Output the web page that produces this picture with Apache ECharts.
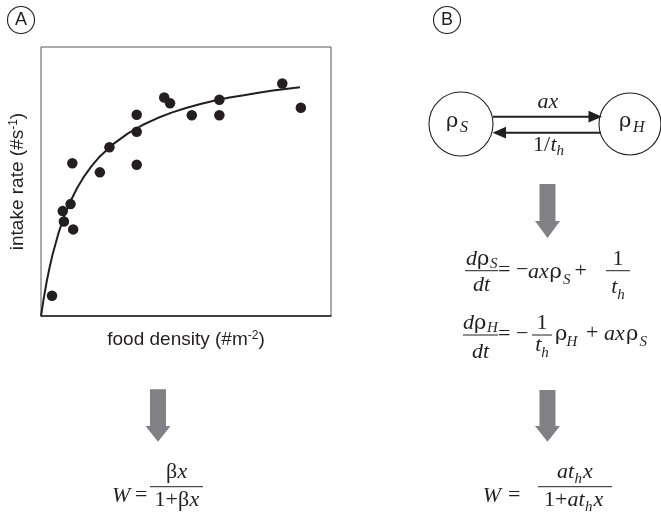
<!DOCTYPE html>
<html>
<head>
<meta charset="utf-8">
<script src="https://cdn.jsdelivr.net/npm/echarts@6/dist/echarts.min.js"></script>
<style>html,body{margin:0;background:#fff}#main{width:661px;height:516px}</style>
</head>
<body>
<div id="main"></div>
<script>
// panel A data (arbitrary 0-100 units)
var density = [3.8, 7.5, 7.9, 10.2, 11.1, 10.8, 20.3, 23.6, 33.0, 33.0, 33.0, 42.5, 44.5, 52.0, 61.5, 61.5, 83.2, 89.6];
var intake = [7.5, 39.0, 35.1, 41.6, 32.2, 56.8, 53.4, 62.7, 74.8, 68.5, 56.2, 81.2, 79.1, 74.6, 80.4, 74.6, 86.4, 77.4];
// fitted curve, traced along its length
var fitX = [0, 1, 2, 3, 4, 6, 8, 10, 12.5, 15, 17.5, 20, 25, 30, 35, 40, 45, 50, 55, 60, 65, 70, 75, 80, 85, 89.3];
var fitY = [0, 6.9, 13.0, 18.2, 22.9, 30.7, 37.1, 42.3, 47.7, 52.1, 55.8, 59.0, 64.0, 67.9, 71.0, 73.5, 75.6, 77.3, 78.8, 80.1, 81.2, 82.1, 83.0, 83.8, 84.5, 85.0];

var ink = '#231f20';
var grey = '#808184';
var serif = '"Liberation Serif", "DejaVu Serif", serif';
var greek = '"DejaVu Serif", serif';
var sans = '"Liberation Sans", Arial, sans-serif';

function tx(s, x, y, size, it, align, fam) {
  align = align || 'left';
  return {
    type: 'text', x: x, y: y, silent: true,
    style: {
      text: s, font: (it ? 'italic ' : '') + size + 'px ' + (fam || serif), fill: ink,
      align: align, verticalAlign: 'middle', textAlign: align, textVerticalAlign: 'middle'
    }
  };
}
function rho(x, y, size) {
  return tx('ρ', x, y, size || 21, false, 'left', greek);
}
function bar(x1, x2, y) {
  return {type: 'line', shape: {x1: x1, y1: y, x2: x2, y2: y}, style: {stroke: ink, lineWidth: 1}};
}
function ring(cx, cy, r) {
  return {type: 'circle', shape: {cx: cx, cy: cy, r: r}, style: {fill: 'none', stroke: ink, lineWidth: 1.1}};
}
function block(cx, top, neck, tip) {
  return {
    type: 'polygon',
    shape: {points: [[cx - 8, top], [cx + 8, top], [cx + 8, neck], [cx + 12.5, neck], [cx, tip], [cx - 12.5, neck], [cx - 8, neck]]},
    style: {fill: grey}
  };
}

var F = 22, S = 15;
var g = [
  ring(21, 20, 13.5), tx('A', 21, 20, 18, false, 'center', sans),
  ring(447, 20, 13.5), tx('B', 447, 20, 18, false, 'center', sans),

  // two-state diagram
  ring(461, 124, 32), ring(630, 124, 31),
  rho(446, 121.5, 21), tx('S', 460, 128, 16, true),
  rho(619, 121.5, 21), tx('H', 633, 128, 16, true),
  {type: 'line', shape: {x1: 493, y1: 116.7, x2: 590, y2: 116.7}, style: {stroke: ink, lineWidth: 2}},
  {type: 'polygon', shape: {points: [[602, 116.7], [588.5, 110.8], [588.5, 122.6]]}, style: {fill: ink}},
  {type: 'line', shape: {x1: 505, y1: 132.7, x2: 601, y2: 132.7}, style: {stroke: ink, lineWidth: 2}},
  {type: 'polygon', shape: {points: [[492.5, 132.7], [506, 126.8], [506, 138.6]]}, style: {fill: ink}},
  tx('ax', 548, 102, F, true, 'center'),
  tx('1/', 533, 145, F), tx('t', 550.5, 145, F, true), tx('h', 556.5, 151, S, true),

  block(547.5, 184, 221, 238),

  // dρS/dt = -axρS + 1/th
  tx('d', 466, 259.2, F, true), rho(477, 259.2), tx('S', 490, 263.7, S, true),
  bar(465, 498, 270.7),
  tx('dt', 473, 285.5, F, true),
  tx('=', 498, 270.1, F), tx('−', 516, 270.1, F),
  tx('ax', 528, 272.5, F, true), rho(549.5, 272.5), tx('S', 563, 279.8, S, true),
  tx('+', 574.5, 271, F),
  tx('1', 612.5, 259.2, F), bar(606, 630, 270.7),
  tx('t', 611.2, 287.5, F, true), tx('h', 617.3, 295, S, true),

  // dρH/dt = -1/th ρH + axρS
  tx('d', 463, 323.5, F, true), rho(474, 323.5), tx('H', 487, 328.2, S, true),
  bar(463, 498, 335),
  tx('dt', 472, 352.5, F, true),
  tx('=', 498, 334.1, F), tx('−', 516, 334.1, F),
  tx('1', 536.5, 323.5, F), bar(532, 552, 335),
  tx('t', 535.2, 345.5, F, true), tx('h', 541.3, 353, S, true),
  rho(555, 334.5), tx('H', 566.5, 341.8, S, true),
  tx('+', 586, 333, F),
  tx('ax', 604, 334.5, F, true), rho(626, 334.5), tx('S', 639.5, 341.8, S, true),

  block(547.5, 390, 426, 441.7),

  // W = a th x / (1 + a th x)
  tx('W', 482.7, 495.8, F, true), tx('=', 508, 494.8, F),
  tx('at', 557, 472.5, F, true), tx('h', 574.5, 479.3, S, true), tx('x', 583, 472.5, F, true),
  bar(538, 612, 486.7),
  tx('1+', 544, 500.2, F), tx('at', 567.5, 500.2, F, true), tx('h', 585, 507.3, S, true), tx('x', 593.5, 500.2, F, true),

  block(158, 389.3, 426, 441.7),

  // W = βx / (1 + βx)
  tx('W', 112, 495.8, F, true), tx('=', 135, 494.8, F),
  tx('β', 166, 472.5, F), tx('x', 177.5, 472.5, F, true),
  bar(150, 203, 486.7),
  tx('1+β', 154.5, 500.2, F), tx('x', 189.5, 500.2, F, true)
];

var nameRich = {
  a: {fontFamily: sans, fontSize: 19, color: ink},
  s: {fontFamily: sans, fontSize: 12, color: ink, verticalAlign: 'top', padding: [0, 0, 8, 0]}
};

var chart = echarts.init(document.getElementById('main'));
chart.setOption({
  animation: false,
  grid: {left: 41, top: 47, width: 290, height: 269, show: true, borderColor: '#555', borderWidth: 1},
  xAxis: {
    type: 'value', min: 0, max: 100,
    name: '{a|food density (#m}{s|-2}{a|)}', nameLocation: 'middle', nameGap: 14,
    nameTextStyle: {rich: nameRich},
    axisLine: {show: true, lineStyle: {color: ink, width: 1.5}},
    axisTick: {show: false}, axisLabel: {show: false}, splitLine: {show: false}
  },
  yAxis: {
    type: 'value', min: 0, max: 100,
    name: '{a|intake rate (#s}{s|-1}{a|)}', nameLocation: 'middle', nameGap: 13, nameRotate: 90,
    nameTextStyle: {rich: nameRich},
    axisLine: {show: false}, axisTick: {show: false}, axisLabel: {show: false}, splitLine: {show: false}
  },
  series: [
    {
      type: 'line', data: fitX.map(function (x, i) { return [x, fitY[i]]; }),
      smooth: false, showSymbol: false, silent: true,
      lineStyle: {color: ink, width: 2}
    },
    {
      type: 'scatter', data: density.map(function (x, i) { return [x, intake[i]]; }),
      symbolSize: 10.5, itemStyle: {color: ink, opacity: 1}
    }
  ],
  graphic: g
});
</script>
</body>
</html>
